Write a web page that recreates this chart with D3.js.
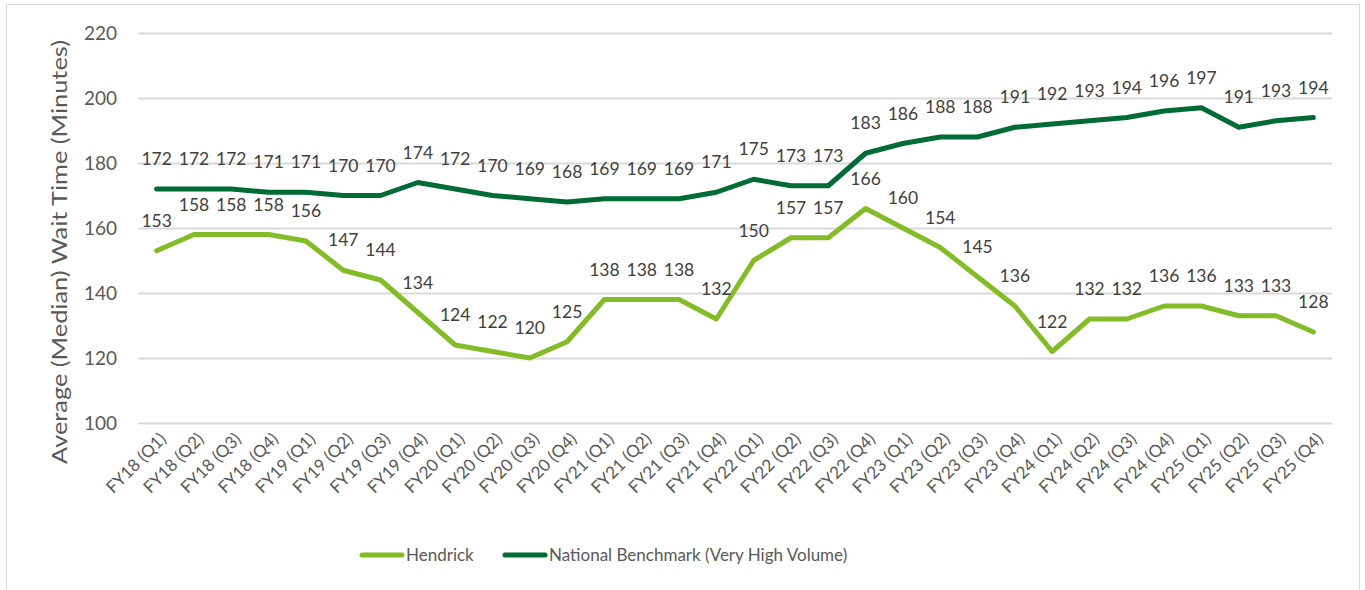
<!DOCTYPE html>
<html lang="en">
<head>
<meta charset="UTF-8">
<title>Average (Median) Wait Time</title>
<script src="https://d3js.org/d3.v7.min.js"></script>
<style>
    body { margin: 0; background: #fff; overflow: hidden; }
    text { font-family: Lato, "Open Sans", sans-serif; }
</style>
</head>
<body>
<script>
// Quarters on the x axis
const quarters = [
    "FY18 (Q1)", "FY18 (Q2)", "FY18 (Q3)", "FY18 (Q4)",
    "FY19 (Q1)", "FY19 (Q2)", "FY19 (Q3)", "FY19 (Q4)",
    "FY20 (Q1)", "FY20 (Q2)", "FY20 (Q3)", "FY20 (Q4)",
    "FY21 (Q1)", "FY21 (Q2)", "FY21 (Q3)", "FY21 (Q4)",
    "FY22 (Q1)", "FY22 (Q2)", "FY22 (Q3)", "FY22 (Q4)",
    "FY23 (Q1)", "FY23 (Q2)", "FY23 (Q3)", "FY23 (Q4)",
    "FY24 (Q1)", "FY24 (Q2)", "FY24 (Q3)", "FY24 (Q4)",
    "FY25 (Q1)", "FY25 (Q2)", "FY25 (Q3)", "FY25 (Q4)"
];

// Median wait times (minutes)
const hendrick = [153, 158, 158, 158, 156, 147, 144, 134, 124, 122, 120, 125, 138, 138, 138, 132,
                  150, 157, 157, 166, 160, 154, 145, 136, 122, 132, 132, 136, 136, 133, 133, 128];
const national = [172, 172, 172, 171, 171, 170, 170, 174, 172, 170, 169, 168, 169, 169, 169, 171,
                  175, 173, 173, 183, 186, 188, 188, 191, 192, 193, 194, 196, 197, 191, 193, 194];

const yTicks = [100, 120, 140, 160, 180, 200, 220];

const series = [
    { name: "Hendrick", values: hendrick, color: "#84bc27" },
    { name: "National Benchmark (Very High Volume)", values: national, color: "#006b35" }
];

const width = 1365, height = 590;
const margin = { left: 138, right: 33, top: 33, bottom: 167 };

const svg = d3.select("body").append("svg")
    .attr("width", width).attr("height", height);

// outer frame
svg.append("rect")
    .attr("x", 6.5).attr("y", 4.5)
    .attr("width", 1353).attr("height", 600)
    .attr("fill", "none").attr("stroke", "#d9d9d9");

const x = d3.scalePoint()
    .domain(quarters)
    .range([margin.left, width - margin.right])
    .padding(0.5);

const y = d3.scaleLinear()
    .domain([100, 220])
    .range([height - margin.bottom, margin.top]);

// gridlines + y labels
const yAxis = svg.append("g")
    .attr("transform", `translate(${margin.left},0)`)
    .call(d3.axisLeft(y).tickValues(yTicks).tickSize(-(width - margin.left - margin.right)).tickPadding(21));
yAxis.select(".domain").remove();
yAxis.selectAll(".tick line").attr("stroke", "#d9d9d9").attr("stroke-width", 2);
yAxis.selectAll(".tick text")
    .attr("fill", "#595959")
    .style("font-size", "19px");

// x labels, rotated
const xAxis = svg.append("g")
    .attr("transform", `translate(0,${height - margin.bottom})`)
    .call(d3.axisBottom(x).tickSize(0));
xAxis.select(".domain").remove();
xAxis.selectAll(".tick text")
    .attr("fill", "#595959")
    .style("font-size", "17px")
    .attr("text-anchor", "end")
    .attr("dy", 0)
    .attr("transform", "translate(8,15) rotate(-45)");

// y axis title
svg.append("text")
    .attr("transform", `translate(67,252) rotate(-90)`)
    .attr("text-anchor", "middle")
    .attr("fill", "#595959")
    .style("font-size", "22px")
    .attr("textLength", 424)
    .attr("lengthAdjust", "spacingAndGlyphs")
    .text("Average (Median) Wait Time (Minutes)");

const line = d3.line()
    .x((d, i) => x(quarters[i]))
    .y(d => y(d));

series.forEach(s => {
    svg.append("path")
        .datum(s.values)
        .attr("d", line)
        .attr("fill", "none")
        .attr("stroke", s.color)
        .attr("stroke-width", 5)
        .attr("stroke-linejoin", "round")
        .attr("stroke-linecap", "round");
});

// data labels above each point
series.forEach(s => {
    svg.append("g").selectAll("text")
        .data(s.values)
        .join("text")
        .attr("x", (d, i) => x(quarters[i]))
        .attr("y", d => y(d) - 24)
        .attr("text-anchor", "middle")
        .attr("fill", "#404040")
        .style("font-size", "17.5px")
        .text(d => d);
});

// legend
const legend = svg.append("g");
const legendItems = [
    { s: series[0], x0: 362 },
    { s: series[1], x0: 505 }
];
legendItems.forEach(it => {
    legend.append("line")
        .attr("x1", it.x0).attr("x2", it.x0 + 40)
        .attr("y1", 555).attr("y2", 555)
        .attr("stroke", it.s.color)
        .attr("stroke-width", 5)
        .attr("stroke-linecap", "round");
    legend.append("text")
        .attr("x", it.x0 + 44).attr("y", 561)
        .attr("fill", "#595959")
        .style("font-size", "17px")
        .text(it.s.name);
});
</script>
</body>
</html>
